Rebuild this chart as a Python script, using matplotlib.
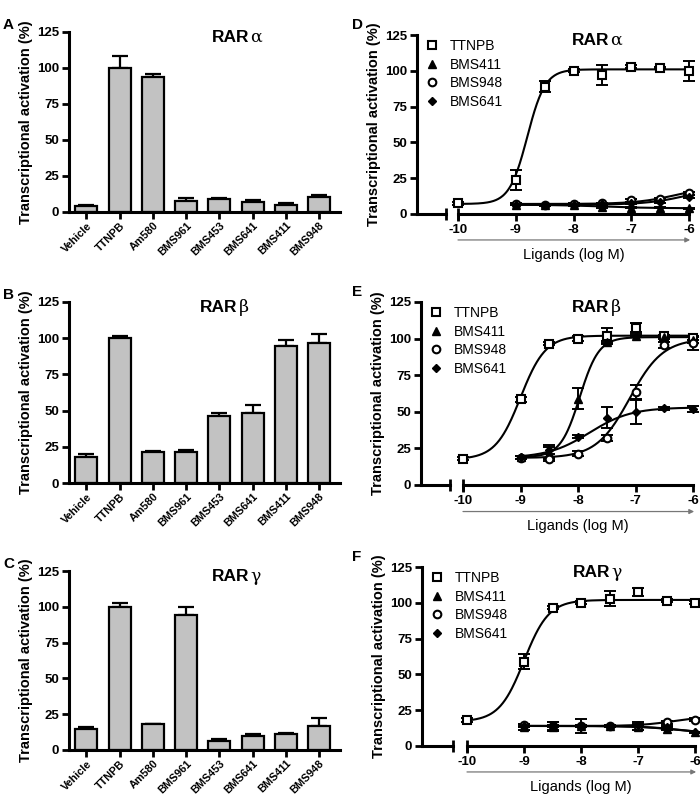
import numpy as np
import matplotlib
matplotlib.use('Agg')
from matplotlib import pyplot as plt
from matplotlib.lines import Line2D

plt.rcParams['font.family'] = ['Liberation Sans', 'DejaVu Sans']

# ---- bar chart data (A, B, C) ----
ligands = ['Vehicle', 'TTNPB', 'Am580', 'BMS961', 'BMS453', 'BMS641', 'BMS411', 'BMS948']

rara_bar = [4.5, 100, 93.5, 7.5, 9, 7, 5, 10.5]
rara_err = [0.5, 8, 2.5, 2.5, 1, 1, 1, 1]
rarb_bar = [18, 100, 21.5, 21.5, 46, 48, 94.5, 97]
rarb_err = [2, 1.5, 0.5, 1.5, 2, 6, 4.5, 6]
rarg_bar = [15, 100, 18, 94, 6.5, 10, 11, 17]
rarg_err = [1, 3, 0.2, 6, 1.5, 1, 1, 5]

# ---- dose response data (D, E, F) ----
logc_ttnpb = [-10, -9, -8.5, -8, -7.5, -7, -6.5, -6]
logc_bms = [-9, -8.5, -8, -7.5, -7, -6.5, -6]

# RAR alpha
d_ttnpb = [7.5, 24, 89, 100, 97, 103, 102, 100]
d_ttnpb_err = [1, 7, 4, 1, 7, 1, 1, 7]
d_bms411 = [6.5, 6, 6, 5, 4.5, 4.5, 4]
d_bms411_err = [0.5, 0.5, 0.5, 0.5, 0.5, 0.5, 0.5]
d_bms948 = [7, 6.5, 7, 7.5, 9.5, 10.5, 14.5]
d_bms948_err = [0.5, 0.5, 0.5, 0.5, 1, 1, 1]
d_bms641 = [6.5, 6.5, 6.5, 7, 7.5, 8.5, 12]
d_bms641_err = [0.5, 0.5, 0.5, 0.5, 0.5, 1, 1]

# RAR beta
e_ttnpb = [18, 58.5, 96.5, 100, 102, 107.5, 101.5, 100.5]
e_ttnpb_err = [1, 1.5, 1, 1.5, 5, 3, 1, 1.5]
e_bms411 = [19, 22, 59, 97.5, 102, 101, 99]
e_bms411_err = [1, 4, 7, 1, 1, 1, 2]
e_bms948 = [18.5, 17.5, 21.5, 32, 63.5, 95.5, 97]
e_bms948_err = [1, 1, 2, 2, 5, 2, 5]
e_bms641 = [19, 24, 33, 46, 50, 52.5, 52]
e_bms641_err = [1, 3, 1, 7, 8, 1, 2]

# RAR gamma
f_ttnpb = [18, 59, 96.5, 100, 103, 107.5, 101.5, 100]
f_ttnpb_err = [1.5, 5, 1, 1, 5, 3, 1, 1]
f_bms411 = [13.5, 13.5, 14, 14, 13, 12, 9.5]
f_bms411_err = [2, 3, 1, 1, 2, 1, 0.5]
f_bms948 = [14.5, 14, 14, 14, 14, 16.5, 18.5]
f_bms948_err = [1, 1, 1, 1, 3, 1, 1]
f_bms641 = [14, 14, 14, 14, 14.5, 13, 9.5]
f_bms641_err = [1, 3, 5, 1, 1, 1, 0.5]

# fitted sigmoid parameters: bottom, top, logEC50, hill
d_fits = {'TTNPB': (7, 101, -8.8, 2.8), 'BMS411': (6.5, 4, -7.5, 1.0),
          'BMS948': (7, 20, -6.2, 1.2), 'BMS641': (6.5, 20, -6.0, 1.2)}
e_fits = {'TTNPB': (17.5, 102, -9.0, 2.0), 'BMS411': (19, 101, -7.97, 2.6),
          'BMS948': (18.5, 100, -7.1, 1.5), 'BMS641': (18.5, 53, -7.8, 1.2)}
f_fits = {'TTNPB': (17, 102, -9.0, 2.0), 'BMS411': (14, 8, -6.2, 1.2),
          'BMS948': (14, 20.5, -6.4, 1.5), 'BMS641': (14, 8.5, -6.3, 1.2)}

W, H = 700, 796
fig = plt.figure(figsize=(W / 100, H / 100), dpi=100)


def px_axes(l, t, r, b):
    return fig.add_axes([l / W, 1 - b / H, (r - l) / W, (b - t) / H])


def fig_text(x, y, s, **kw):
    return fig.text(x / W, 1 - y / H, s, **kw)


def title_text(x, y, greek):
    t = fig_text(x, y, 'RAR', fontsize=12.5, fontweight='bold', va='baseline')
    fig.canvas.draw()
    bb = t.get_window_extent()
    fig.text((bb.x1 + 1) / W, 1 - y / H, greek, fontsize=12.5, va='baseline',
             family=['DejaVu Serif'])


def style_y(ax):
    ax.set_ylim(0, 125)
    ax.set_yticks([0, 25, 50, 75, 100, 125])
    ax.tick_params(axis='y', direction='out', length=5, width=2, labelsize=9.5, pad=2)
    for lab in ax.get_yticklabels():
        lab.set_fontweight('bold')
    ax.set_ylabel('Transcriptional activation (%)', fontsize=10.5, fontweight='bold', labelpad=3)
    ax.spines['left'].set_linewidth(2.2)


def bar_panel(rect, vals, errs, letter, greek, tx):
    ax = px_axes(*rect)
    x = np.arange(len(ligands))
    ax.errorbar(x, vals, yerr=[np.zeros(len(errs)), errs], fmt='none', ecolor='black',
                elinewidth=1.6, capsize=6, capthick=1.6, zorder=1)
    ax.bar(x, vals, width=0.66, color='#c2c2c2', edgecolor='black', linewidth=1.6, zorder=2)
    ax.set_xlim(-0.52, 7.63)
    ax.spines['top'].set_visible(False)
    ax.spines['right'].set_visible(False)
    ax.spines['bottom'].set_linewidth(2.2)
    style_y(ax)
    ax.set_xticks(x)
    ax.set_xticklabels(ligands, rotation=45, ha='right', rotation_mode='anchor',
                       fontsize=7.8, fontweight='bold')
    ax.tick_params(axis='x', direction='out', length=5, width=2, pad=1)
    fig_text(3, rect[1] - 14, letter, fontsize=11, fontweight='bold', va='top')
    title_text(tx, rect[1] + 10, greek)
    return ax


def hill(p, xs):
    bottom, top, ec50, h = p
    return bottom + (top - bottom) / (1 + 10 ** ((ec50 - xs) * h))


def dose_panel(spine, seg_end, main_l, main_r, top, bottom, series, fits, letter, greek, tx):
    ax0 = px_axes(spine, top, seg_end, bottom)
    ax0.set_xlim(0, 1)
    ax0.set_xticks([])
    for s in ['top', 'right']:
        ax0.spines[s].set_visible(False)
    ax0.spines['bottom'].set_linewidth(2.2)
    style_y(ax0)
    ax0.plot([1], [0], marker='|', ms=9, mew=2, color='black',
             transform=ax0.transAxes, clip_on=False)

    ax = px_axes(main_l, top, main_r, bottom)
    ax.set_ylim(0, 125)
    ax.set_xlim(-10, -6)
    ax.patch.set_visible(False)
    for s in ['top', 'right', 'left']:
        ax.spines[s].set_visible(False)
    ax.spines['bottom'].set_linewidth(2.2)
    ax.set_yticks([])
    ax.set_xticks([-10, -9, -8, -7, -6])
    ax.set_xticklabels(['-10', '-9', '-8', '-7', '-6'], fontsize=9.5, fontweight='bold')
    ax.tick_params(axis='x', direction='out', length=5, width=2, pad=2)
    ax.plot([0], [0], marker='|', ms=9, mew=2, color='black',
            transform=ax.transAxes, clip_on=False)

    styles = {'TTNPB': dict(marker='s', ms=5.5, mfc='white', mew=1.5),
              'BMS411': dict(marker='^', ms=5.5, mfc='black', mew=1),
              'BMS948': dict(marker='o', ms=5.5, mfc='white', mew=1.5),
              'BMS641': dict(marker='D', ms=4, mfc='black', mew=1)}
    handles = []
    for name, (xv, yv, ev) in series.items():
        xv = np.array(xv)
        xs = np.linspace(xv[0], -6, 300)
        ax.plot(xs, hill(fits[name], xs), color='black', lw=1.5, clip_on=False, zorder=2)
        eb = ax.errorbar(xv, yv, yerr=ev, fmt='none', ecolor='black', elinewidth=1.4,
                         capsize=4, capthick=1.4, zorder=3)
        for art in eb.lines[1] + eb.lines[2]:
            art.set_clip_on(False)
        ax.plot(xv, yv, ls='none', mec='black', clip_on=False, zorder=4, **styles[name])
        handles.append(Line2D([], [], ls='none', mec='black', label=name, **styles[name]))

    fig.legend(handles=handles, loc='upper left',
               bbox_to_anchor=((spine + 8) / W, 1 - (top + 4) / H),
               frameon=False, fontsize=10, handlelength=1.0, handletextpad=0.8,
               labelspacing=0.33, borderpad=0, borderaxespad=0)

    ax.annotate('', xy=(1.005, -0.145), xytext=(0, -0.145), xycoords='axes fraction',
                arrowprops=dict(arrowstyle='-|>', color='#777777', lw=0.9,
                                mutation_scale=7, shrinkA=0, shrinkB=0))
    fig_text((main_l + main_r) / 2, bottom + 41, 'Ligands (log M)', fontsize=10.5,
             ha='center', va='center')
    fig_text(352, top - 17, letter, fontsize=11, fontweight='bold', va='top')
    title_text(tx, top + 10, greek)
    return ax


bar_panel((69, 32, 340, 212), rara_bar, rara_err, 'A', 'α', 212)
bar_panel((69, 302, 340, 483), rarb_bar, rarb_err, 'B', 'β', 200)
bar_panel((69, 571, 340, 750), rarg_bar, rarg_err, 'C', 'γ', 212)

dose_panel(417, 446, 458, 689, 35, 214,
           {'TTNPB': (logc_ttnpb, d_ttnpb, d_ttnpb_err),
            'BMS411': (logc_bms, d_bms411, d_bms411_err),
            'BMS948': (logc_bms, d_bms948, d_bms948_err),
            'BMS641': (logc_bms, d_bms641, d_bms641_err)},
           d_fits, 'D', 'α', 572)
dose_panel(421, 450, 463, 693, 302, 485,
           {'TTNPB': (logc_ttnpb, e_ttnpb, e_ttnpb_err),
            'BMS411': (logc_bms, e_bms411, e_bms411_err),
            'BMS948': (logc_bms, e_bms948, e_bms948_err),
            'BMS641': (logc_bms, e_bms641, e_bms641_err)},
           e_fits, 'E', 'β', 572)
dose_panel(422, 453, 467, 695, 567, 746,
           {'TTNPB': (logc_ttnpb, f_ttnpb, f_ttnpb_err),
            'BMS411': (logc_bms, f_bms411, f_bms411_err),
            'BMS948': (logc_bms, f_bms948, f_bms948_err),
            'BMS641': (logc_bms, f_bms641, f_bms641_err)},
           f_fits, 'F', 'γ', 573)

fig.savefig('out.png', dpi=100)
